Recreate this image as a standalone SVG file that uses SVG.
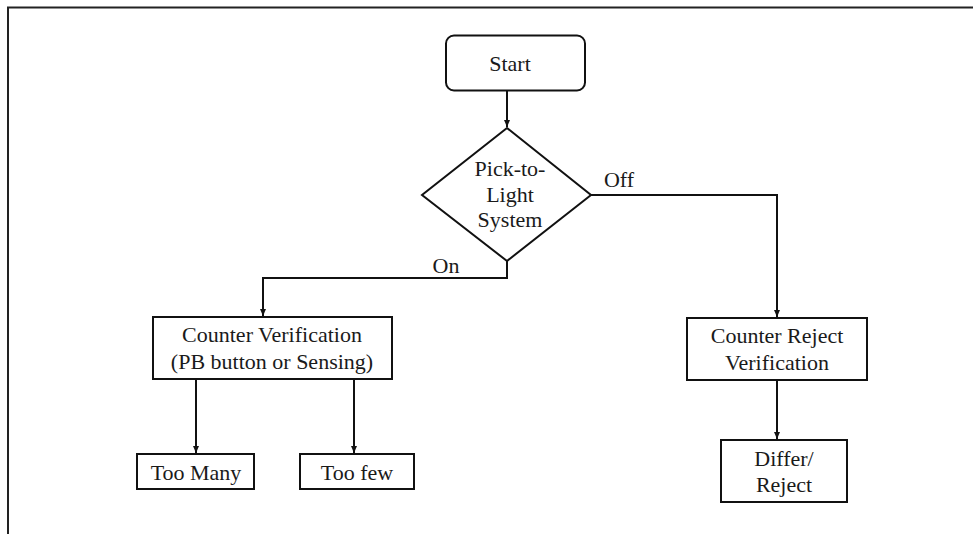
<svg xmlns="http://www.w3.org/2000/svg" width="973" height="534" viewBox="0 0 973 534">
<style>
.box{fill:#fff;stroke:#111;stroke-width:2}
.t{font-family:"Liberation Serif","Times New Roman",serif;font-size:22px;fill:#1a1a1a;text-anchor:middle}
.c{fill:none;stroke:#111;stroke-width:2}
</style>
<defs>
<marker id="ah" markerWidth="8" markerHeight="8" refX="7" refY="4" orient="auto" markerUnits="userSpaceOnUse">
<path d="M0,1 L7,4 L0,7 Z" fill="#111"/>
</marker>
</defs>
<rect width="973" height="534" fill="#fff"/>
<path d="M8,534 V7.5 H973" fill="none" stroke="#222" stroke-width="2"/>
<g id="connectors">
<path class="c" d="M507,91 V127" marker-end="url(#ah)"/>
<path class="c" d="M507,261 V278 H263 V316" marker-end="url(#ah)"/>
<path class="c" d="M591,195 H777 V317" marker-end="url(#ah)"/>
<path class="c" d="M196,380 V453" marker-end="url(#ah)"/>
<path class="c" d="M354,380 V453" marker-end="url(#ah)"/>
<path class="c" d="M777,381 V439" marker-end="url(#ah)"/>
<text class="t" x="446" y="273">On</text>
<text class="t" x="619" y="187">Off</text>
</g>
<g id="start">
<rect class="box" x="446" y="35.5" width="139" height="55" rx="8"/>
<text class="t" x="510" y="71">Start</text>
</g>
<g id="decision">
<polygon class="box" points="507,128 591,195 507,261 422,195"/>
<text class="t" x="510" y="176">Pick-to-</text>
<text class="t" x="510" y="202">Light</text>
<text class="t" x="510" y="227">System</text>
</g>
<g id="counter-verification">
<rect class="box" x="153" y="317" width="239" height="62"/>
<text class="t" x="272" y="342">Counter Verification</text>
<text class="t" x="272" y="369">(PB button or Sensing)</text>
</g>
<g id="too-many">
<rect class="box" x="137" y="454" width="117" height="35"/>
<text class="t" x="196" y="480">Too Many</text>
</g>
<g id="too-few">
<rect class="box" x="300" y="454" width="114" height="35"/>
<text class="t" x="357" y="480">Too few</text>
</g>
<g id="counter-reject">
<rect class="box" x="687" y="318" width="180" height="62"/>
<text class="t" x="777" y="343">Counter Reject</text>
<text class="t" x="777" y="370">Verification</text>
</g>
<g id="differ-reject">
<rect class="box" x="721" y="440" width="126" height="62"/>
<text class="t" x="784" y="466">Differ/</text>
<text class="t" x="784" y="492">Reject</text>
</g>
</svg>
